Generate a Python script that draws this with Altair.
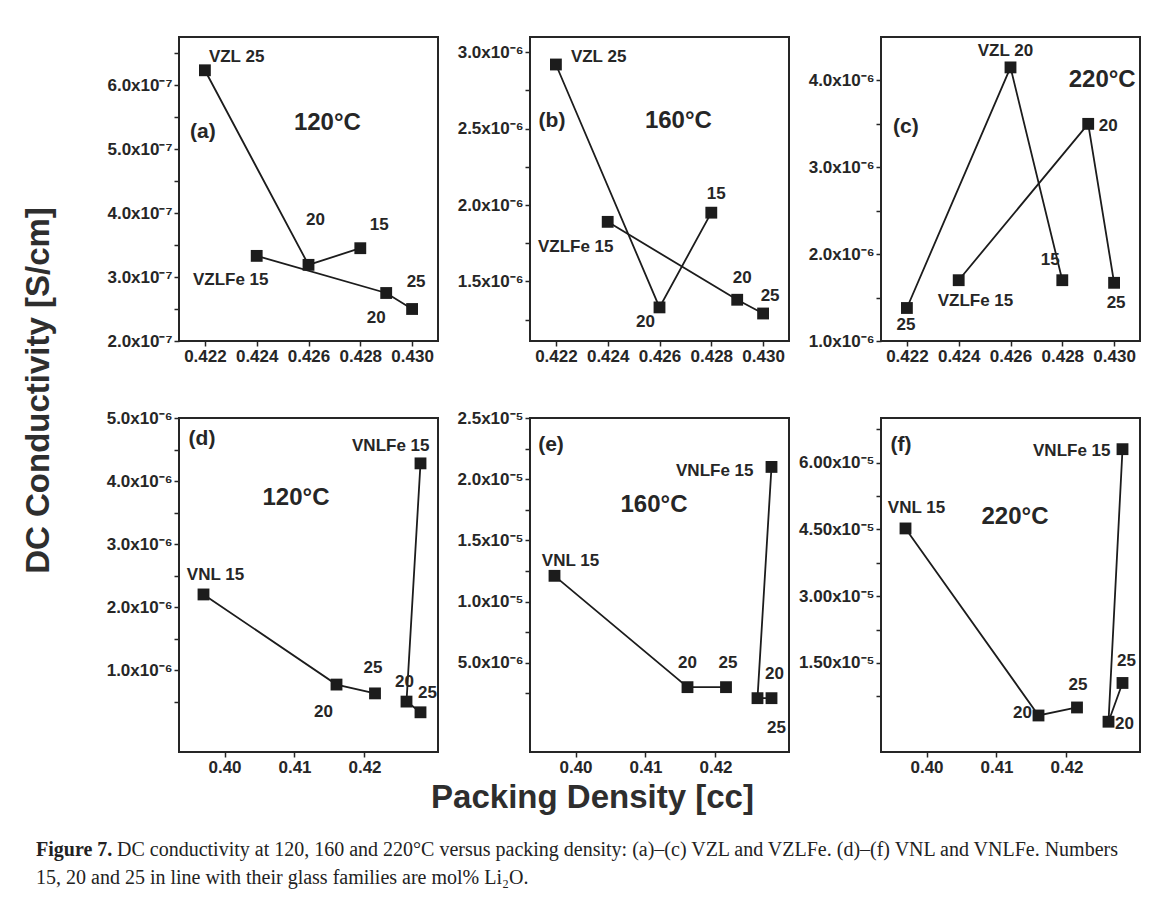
import altair as alt
import pandas as pd

FONT = "Liberation Sans"
SERIF = "Liberation Serif"
INK = "#262626"
LINE = "#1c1c1c"

# ---------------- packing density (x values) ----------------
VZL_PD = [0.422, 0.426, 0.428]
VZLFE_PD = [0.424, 0.429, 0.430]
VNL_PD = [0.397, 0.416, 0.4215]
VNLFE_PD = [0.428, 0.426, 0.428]

# ---------------- DC conductivity, S/cm ----------------
A_VZL = [6.23e-7, 3.19e-7, 3.45e-7]
A_VZLFE = [3.33e-7, 2.75e-7, 2.50e-7]
B_VZL = [2.92e-6, 1.33e-6, 1.95e-6]
B_VZLFE = [1.89e-6, 1.38e-6, 1.29e-6]
C_VZL = [1.38e-6, 4.15e-6, 1.70e-6]
C_VZLFE = [1.70e-6, 3.50e-6, 1.67e-6]
D_VNL = [2.20e-6, 0.77e-6, 0.63e-6]
D_VNLFE = [4.28e-6, 0.50e-6, 0.33e-6]
E_VNL = [1.21e-5, 0.30e-5, 0.30e-5]
E_VNLFE = [2.10e-5, 0.21e-5, 0.21e-5]
F_VNL = [4.52e-5, 0.32e-5, 0.50e-5]
F_VNLFE = [6.30e-5, 0.18e-5, 1.05e-5]

# ---------------- point labels ----------------
TOP_VZL_TXT = ["VZL 25", "20", "15"]
C_VZL_TXT = ["25", "VZL 20", "15"]
VZLFE_TXT = ["VZLFe 15", "20", "25"]
VNL_TXT = ["VNL 15", "20", "25"]
VNLFE_TXT = ["VNLFe 15", "20", "25"]

TAGS = ["(a)", "(b)", "(c)", "(d)", "(e)", "(f)"]
TEMPS = ["120°C", "160°C", "220°C", "120°C", "160°C", "220°C"]

# ---------------- axis ticks ----------------
TOP_X_TICKS = [0.422, 0.424, 0.426, 0.428, 0.430]
TOP_X_LABELS = ["0.422", "0.424", "0.426", "0.428", "0.430"]
BOT_X_TICKS = [0.40, 0.41, 0.42]
BOT_X_LABELS = ["0.40", "0.41", "0.42"]

A_Y_TICKS = [2e-7, 3e-7, 4e-7, 5e-7, 6e-7]
A_Y_LABELS = ["2.0x10⁻⁷", "3.0x10⁻⁷", "4.0x10⁻⁷", "5.0x10⁻⁷", "6.0x10⁻⁷"]
A_Y_MINOR = [2.5e-7, 3.5e-7, 4.5e-7, 5.5e-7, 6.5e-7]
B_Y_TICKS = [1.5e-6, 2.0e-6, 2.5e-6, 3.0e-6]
B_Y_LABELS = ["1.5x10⁻⁶", "2.0x10⁻⁶", "2.5x10⁻⁶", "3.0x10⁻⁶"]
B_Y_MINOR = [1.25e-6, 1.75e-6, 2.25e-6, 2.75e-6]
C_Y_TICKS = [1e-6, 2e-6, 3e-6, 4e-6]
C_Y_LABELS = ["1.0x10⁻⁶", "2.0x10⁻⁶", "3.0x10⁻⁶", "4.0x10⁻⁶"]
C_Y_MINOR = [1.5e-6, 2.5e-6, 3.5e-6]
D_Y_TICKS = [1e-6, 2e-6, 3e-6, 4e-6, 5e-6]
D_Y_LABELS = ["1.0x10⁻⁶", "2.0x10⁻⁶", "3.0x10⁻⁶", "4.0x10⁻⁶", "5.0x10⁻⁶"]
D_Y_MINOR = [0.5e-6, 1.5e-6, 2.5e-6, 3.5e-6, 4.5e-6]
E_Y_TICKS = [5e-6, 1e-5, 1.5e-5, 2e-5, 2.5e-5]
E_Y_LABELS = ["5.0x10⁻⁶", "1.0x10⁻⁵", "1.5x10⁻⁵", "2.0x10⁻⁵", "2.5x10⁻⁵"]
E_Y_MINOR = [2.5e-6, 7.5e-6, 1.25e-5, 1.75e-5, 2.25e-5]
F_Y_TICKS = [1.5e-5, 3.0e-5, 4.5e-5, 6.0e-5]
F_Y_LABELS = ["1.50x10⁻⁵", "3.00x10⁻⁵", "4.50x10⁻⁵", "6.00x10⁻⁵"]
F_Y_MINOR = [0.75e-5, 2.25e-5, 3.75e-5, 5.25e-5, 6.75e-5]

Y_TITLE = "DC Conductivity [S/cm]"
X_TITLE = "Packing Density [cc]"
CAPTION_BOLD = "Figure 7."
CAPTION_1 = ("DC conductivity at 120, 160 and 220°C versus packing density: "
             "(a)–(c) VZL and VZLFe. (d)–(f) VNL and VNLFe. Numbers")
CAPTION_2 = "15, 20 and 25 in line with their glass families are mol% Li₂O."

# ---------------- layout / style ----------------
PW = 259
TOP_H = 304
BOT_H = 334
TOP_XDOM = [0.421, 0.431]
BOT_XDOM = [0.3935, 0.4305]

AX = dict(domain=False, grid=False, ticks=True, tickSize=5, tickWidth=1.5,
          tickColor=INK, labelFont=FONT, labelFontSize=17, labelFontWeight="bold",
          labelColor=INK, labelOverlap=False, labelFlush=False, labelPadding=2)

# label offsets (dx, dy, align) per (series, index)
OFF_A = {("VZL", 0): (4, -13, "left"), ("VZL", 1): (7, -45, "center"), ("VZL", 2): (19, -23, "center"),
         ("VZLFe", 0): (-26, 24, "center"), ("VZLFe", 1): (-10, 25, "center"), ("VZLFe", 2): (4, -27, "center")}
OFF_B = {("VZL", 0): (15, -7, "left"), ("VZL", 1): (-14, 15, "center"), ("VZL", 2): (5, -19, "center"),
         ("VZLFe", 0): (-32, 25, "center"), ("VZLFe", 1): (5, -22, "center"), ("VZLFe", 2): (7, -18, "center")}
OFF_C = {("VZL", 0): (-1, 17, "center"), ("VZL", 1): (-5, -16, "center"), ("VZL", 2): (-12, -20, "center"),
         ("VZLFe", 0): (-21, 21, "left"), ("VZLFe", 1): (20, 2, "center"), ("VZLFe", 2): (2, 20, "center")}
OFF_D = {("VNL", 0): (12, -19, "center"), ("VNL", 1): (-13, 27, "center"), ("VNL", 2): (-2, -25, "center"),
         ("VNLFe", 0): (9, -17, "right"), ("VNLFe", 1): (-2, -20, "center"), ("VNLFe", 2): (7, -19, "center")}
OFF_E = {("VNL", 0): (16, -15, "center"), ("VNL", 1): (0, -24, "center"), ("VNL", 2): (2, -24, "center"),
         ("VNLFe", 0): (-18, 4, "right"), ("VNLFe", 1): (17, -24, "center"), ("VNLFe", 2): (5, 30, "center")}
OFF_F = {("VNL", 0): (11, -20, "center"), ("VNL", 1): (-16, -2, "center"), ("VNL", 2): (1, -22, "center"),
         ("VNLFe", 0): (-12, 2, "right"), ("VNLFe", 1): (16, 2, "center"), ("VNLFe", 2): (4, -22, "center")}

# tag / temperature positions in data coordinates
POS_A = ((0.42192, 5.27e-7), (0.42673, 5.41e-7))
POS_B = ((0.42185, 2.552e-6), (0.42673, 2.552e-6))
POS_C = ((0.42196, 3.46e-6), (0.42954, 4.01e-6))
POS_D = ((0.39679, 4.67e-6), (0.41021, 3.73e-6))
POS_E = ((0.39650, 2.28e-5), (0.41121, 1.79e-5))
POS_F = ((0.39636, 6.39e-5), (0.41264, 4.78e-5))


def label_expr(ticks, labels):
    parts = [f"datum.value == {t!r} ? '{l}'" for t, l in zip(ticks, labels)]
    return " : ".join(parts) + " : ''"


def panel(series, xdom, ydom, xt, xl, yt, yl, ym, tag, temp, pos, offsets, h,
          xtitle=None, ytitle=None):
    rows = []
    for name, xs, ys, txt in series:
        for k in range(len(xs)):
            rows.append(dict(series=name, k=k, pd=xs[k], s=ys[k], t=txt[k]))
    df = pd.DataFrame(rows)

    xax = dict(AX)
    xax.update(values=xt, labelExpr=label_expr(xt, xl))
    if xtitle:
        xax.update(xtitle)
    else:
        xax["title"] = None
    yax = dict(AX)
    yax.update(values=yt + ym, labelExpr=label_expr(yt, yl))
    if ytitle:
        yax.update(ytitle)
    else:
        yax["title"] = None

    X = alt.X("pd:Q", scale=alt.Scale(domain=xdom, nice=False, zero=False), axis=alt.Axis(**xax))
    Y = alt.Y("s:Q", scale=alt.Scale(domain=ydom, nice=False, zero=False), axis=alt.Axis(**yax))

    base = alt.Chart(df)
    layers = [
        base.mark_line(color=LINE, strokeWidth=1.8).encode(X, Y, detail="series:N", order="k:O"),
        base.mark_point(shape="square", filled=True, size=140, color=LINE, opacity=1).encode(X, Y),
    ]
    for (name, k), (dx, dy, al) in offsets.items():
        layers.append(
            base.transform_filter(f"datum.series == '{name}' && datum.k == {k}")
            .mark_text(dx=dx, dy=dy, align=al, baseline="middle", font=FONT, fontSize=17,
                       fontWeight="bold", color=INK)
            .encode(X, Y, text="t:N")
        )
    ann = pd.DataFrame({"pd": [pos[0][0], pos[1][0]], "s": [pos[0][1], pos[1][1]],
                        "t": [tag, temp], "kind": ["tag", "temp"]})
    abase = alt.Chart(ann)
    layers.append(abase.transform_filter("datum.kind == 'tag'")
                  .mark_text(align="center", baseline="middle", font=FONT, fontSize=21,
                             fontWeight="bold", color=INK).encode(X, Y, text="t:N"))
    layers.append(abase.transform_filter("datum.kind == 'temp'")
                  .mark_text(align="center", baseline="middle", font=FONT, fontSize=24,
                             fontWeight="bold", color=INK).encode(X, Y, text="t:N"))
    return alt.layer(*layers).properties(width=PW, height=h)


pa = panel([("VZL", VZL_PD, A_VZL, TOP_VZL_TXT), ("VZLFe", VZLFE_PD, A_VZLFE, VZLFE_TXT)],
           TOP_XDOM, [2.0e-7, 6.75e-7], TOP_X_TICKS, TOP_X_LABELS, A_Y_TICKS, A_Y_LABELS, A_Y_MINOR,
           TAGS[0], TEMPS[0], POS_A, OFF_A, TOP_H)
pb = panel([("VZL", VZL_PD, B_VZL, TOP_VZL_TXT), ("VZLFe", VZLFE_PD, B_VZLFE, VZLFE_TXT)],
           TOP_XDOM, [1.11e-6, 3.1e-6], TOP_X_TICKS, TOP_X_LABELS, B_Y_TICKS, B_Y_LABELS, B_Y_MINOR,
           TAGS[1], TEMPS[1], POS_B, OFF_B, TOP_H)
pc = panel([("VZL", VZL_PD, C_VZL, C_VZL_TXT), ("VZLFe", VZLFE_PD, C_VZLFE, VZLFE_TXT)],
           TOP_XDOM, [1.0e-6, 4.5e-6], TOP_X_TICKS, TOP_X_LABELS, C_Y_TICKS, C_Y_LABELS, C_Y_MINOR,
           TAGS[2], TEMPS[2], POS_C, OFF_C, TOP_H)

ytitle = dict(title=Y_TITLE, titleFont=FONT, titleFontSize=33, titleFontWeight="bold",
              titleColor="#2e2e2e", titleAngle=270, titleAlign="center", titleBaseline="middle",
              titleX=-141, titleY=-28)
xtitle = dict(title=X_TITLE, titleFont=FONT, titleFontSize=33, titleFontWeight="bold",
              titleColor="#2e2e2e", titleAngle=0, titleAlign="center", titleBaseline="middle",
              titleX=62, titleY=45)

pdd = panel([("VNL", VNL_PD, D_VNL, VNL_TXT), ("VNLFe", VNLFE_PD, D_VNLFE, VNLFE_TXT)],
            BOT_XDOM, [-0.3e-6, 5.0e-6], BOT_X_TICKS, BOT_X_LABELS, D_Y_TICKS, D_Y_LABELS, D_Y_MINOR,
            TAGS[3], TEMPS[3], POS_D, OFF_D, BOT_H, ytitle=ytitle)
pe = panel([("VNL", VNL_PD, E_VNL, VNL_TXT), ("VNLFe", VNLFE_PD, E_VNLFE, VNLFE_TXT)],
           BOT_XDOM, [-0.23e-5, 2.5e-5], BOT_X_TICKS, BOT_X_LABELS, E_Y_TICKS, E_Y_LABELS, E_Y_MINOR,
           TAGS[4], TEMPS[4], POS_E, OFF_E, BOT_H, xtitle=xtitle)
pf = panel([("VNL", VNL_PD, F_VNL, VNL_TXT), ("VNLFe", VNLFE_PD, F_VNLFE, VNLFE_TXT)],
           BOT_XDOM, [-0.5e-5, 7.0e-5], BOT_X_TICKS, BOT_X_LABELS, F_Y_TICKS, F_Y_LABELS, F_Y_MINOR,
           TAGS[5], TEMPS[5], POS_F, OFF_F, BOT_H)

# caption
CAP_X = -143
CAP_SIZE = 20
cap_layers = [
    alt.Chart(pd.DataFrame({"t": [CAPTION_BOLD]})).mark_text(
        align="left", baseline="middle", font=SERIF, fontSize=CAP_SIZE, fontWeight="bold", color="#222"
    ).encode(x=alt.value(CAP_X), y=alt.value(21), text="t:N"),
    alt.Chart(pd.DataFrame({"t": [CAPTION_1]})).mark_text(
        align="left", baseline="middle", font=SERIF, fontSize=CAP_SIZE, color="#222"
    ).encode(x=alt.value(CAP_X + 81), y=alt.value(21), text="t:N"),
    alt.Chart(pd.DataFrame({"t": [CAPTION_2]})).mark_text(
        align="left", baseline="middle", font=SERIF, fontSize=CAP_SIZE, color="#222"
    ).encode(x=alt.value(CAP_X), y=alt.value(49), text="t:N"),
]
caption = alt.layer(*cap_layers).properties(
    width=PW, height=60, view=alt.ViewBackground(stroke="transparent"))

chart = alt.concat(pa, pb, pc, pdd, pe, pf, caption, columns=3,
                   spacing={"row": 77, "column": 92}, bounds="flush").properties(
    padding={"left": 12, "top": 28, "right": 5, "bottom": 5},
    background="white",
).configure_view(stroke=INK, strokeWidth=2)

chart.save("out.html", embed_options={"renderer": "svg", "actions": False})
